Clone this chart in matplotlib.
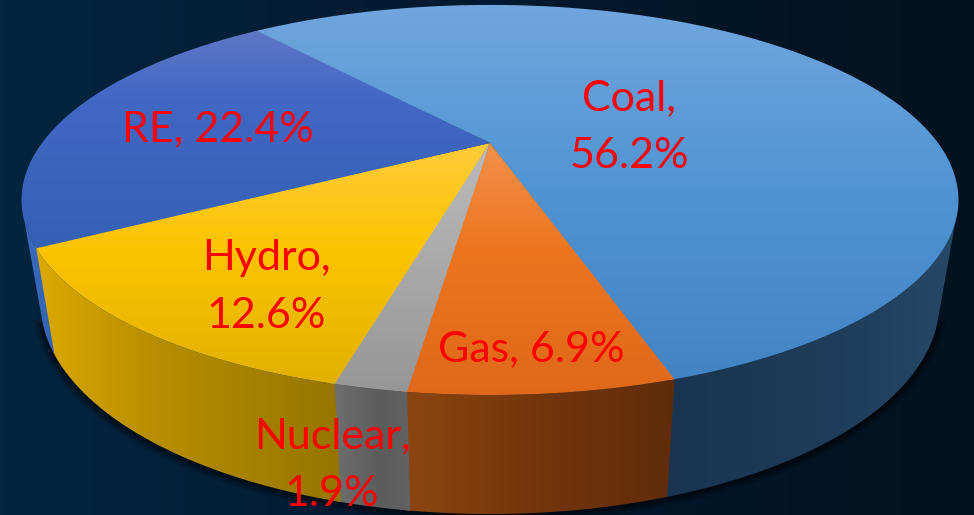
import numpy as np
import matplotlib
matplotlib.use('Agg')
import matplotlib.pyplot as plt
from matplotlib.colors import LinearSegmentedColormap
from matplotlib.patches import Polygon

# slices, clockwise from the back left edge
names = ['Coal', 'Gas', 'Nuclear', 'Hydro', 'RE']
shares = [56.2, 6.9, 1.9, 12.6, 22.4]

# label text and where it sits (pixels)
label_text = ['Coal,\n56.2%', 'Gas, 6.9%', 'Nuclear,\n1.9%', 'Hydro,\n12.6%', 'RE, 22.4%']
label_x = [629, 531, 332, 266, 218]
label_y = [127, 349, 465, 287, 129]

# (position, colour) gradient stops: top face goes by y, wall goes by x
top_stops = [
    [(0, '#72a6de'), (200, '#4f93d3'), (400, '#4282c3')],
    [(140, '#f4914c'), (250, '#ed7520'), (400, '#df681a')],
    [(140, '#bcbcbc'), (400, '#959595')],
    [(140, '#ffcb3c'), (250, '#fdc400'), (400, '#deaf00')],
    [(20, '#6279c4'), (100, '#4168c4'), (260, '#3360b3')],
]
wall_stops = [
    [(660, '#1a3450'), (800, '#1d3a57'), (960, '#264866')],
    [(400, '#8c4610'), (540, '#73350c'), (685, '#5e2c08')],
    [(330, '#707070'), (380, '#5c5c5c'), (420, '#646464')],
    [(20, '#e0ad00'), (150, '#b98f00'), (350, '#947300')],
    [(15, '#3a6cc0'), (65, '#3261ae')],
]

start_angle = -39.6
# the wall is only seen between these two angles
wall_from, wall_to = 113, 247


def project(t, a, b, y0):
    # perspective view of a circle, t in degrees clockwise from the back
    u = np.sin(np.radians(t))
    v = -np.cos(np.radians(t))
    den = 1 - 0.292 * v
    return 490 + a * u / den, y0 + b * v / den


def top_rim(t):
    return project(t, 448, 178.4, 143)


def bottom_rim(t):
    return project(t, 430, 194, 240)


def fill_gradient(ax, pts, stops, vertical, zorder):
    lo, hi = stops[0][0], stops[-1][0]
    pos = [(p - lo) / (hi - lo) for p, c in stops]
    cmap = LinearSegmentedColormap.from_list('g', list(zip(pos, [c for p, c in stops])))
    ramp = np.linspace(0, 1, 256)
    patch = Polygon(pts, closed=True, fc='none', ec='none', transform=ax.transData)
    ax.add_patch(patch)
    if vertical:
        im = ax.imshow(ramp[:, None], cmap=cmap, extent=(0, 974, hi, lo), aspect='auto', zorder=zorder)
    else:
        im = ax.imshow(ramp[None, :], cmap=cmap, extent=(lo, hi, 515, 0), aspect='auto', zorder=zorder)
    im.set_clip_path(patch)


fig = plt.figure(figsize=(9.74, 5.15), dpi=100)
ax = fig.add_axes([0, 0, 1, 1])

# background
xx, yy = np.meshgrid(np.linspace(0, 1, 200), np.linspace(0, 1, 100))
bg_map = LinearSegmentedColormap.from_list('bg', ['#04243f', '#03192f', '#02121f'])
ax.imshow(xx, cmap=bg_map, extent=(0, 974, 515, 0), aspect='auto', zorder=0)

angles = start_angle + np.concatenate([[0], np.cumsum(shares)]) * 3.6
angles[-1] = start_angle + 360
n = len(shares)

# soft shadow under the lower rim
tt = np.linspace(wall_from, wall_to, 200)
sx, sy = bottom_rim(tt)
for lw, al in zip([12, 9, 6, 3], [0.10, 0.14, 0.18, 0.25]):
    ax.plot(sx, sy + 1, color='black', lw=lw, alpha=al, zorder=1)

# walls first, each one runs a little under the next so no seam shows
for i in range(n):
    t0 = max(angles[i], wall_from)
    t1 = min(angles[i + 1] + (0.5 if i < n - 1 else 0), wall_to)
    t = np.linspace(t0, t1, 150)
    xt, yt = top_rim(t)
    xb, yb = bottom_rim(t)
    pts = np.column_stack([np.r_[xt, xb[::-1]], np.r_[yt, yb[::-1]]])
    fill_gradient(ax, pts, wall_stops[i], False, 2 + i * 0.01)

for i in range(n):
    t0 = angles[i] - (0.5 if i == 0 else 0)
    t1 = angles[i + 1] + (0.5 if i < n - 1 else 0)
    t = np.linspace(t0, t1, 300)
    xt, yt = top_rim(t)
    pts = np.column_stack([np.r_[490, xt], np.r_[143, yt]])
    fill_gradient(ax, pts, top_stops[i], True, 3 + i * 0.01)

for i in range(n):
    ax.text(label_x[i], label_y[i], label_text[i], color='#ff0000', fontsize=31, family='Lato',
            ha='center', va='center', linespacing=1.62, zorder=5)

ax.set_xlim(0, 974)
ax.set_ylim(515, 0)
ax.axis('off')
fig.savefig('out.png', dpi=100)
